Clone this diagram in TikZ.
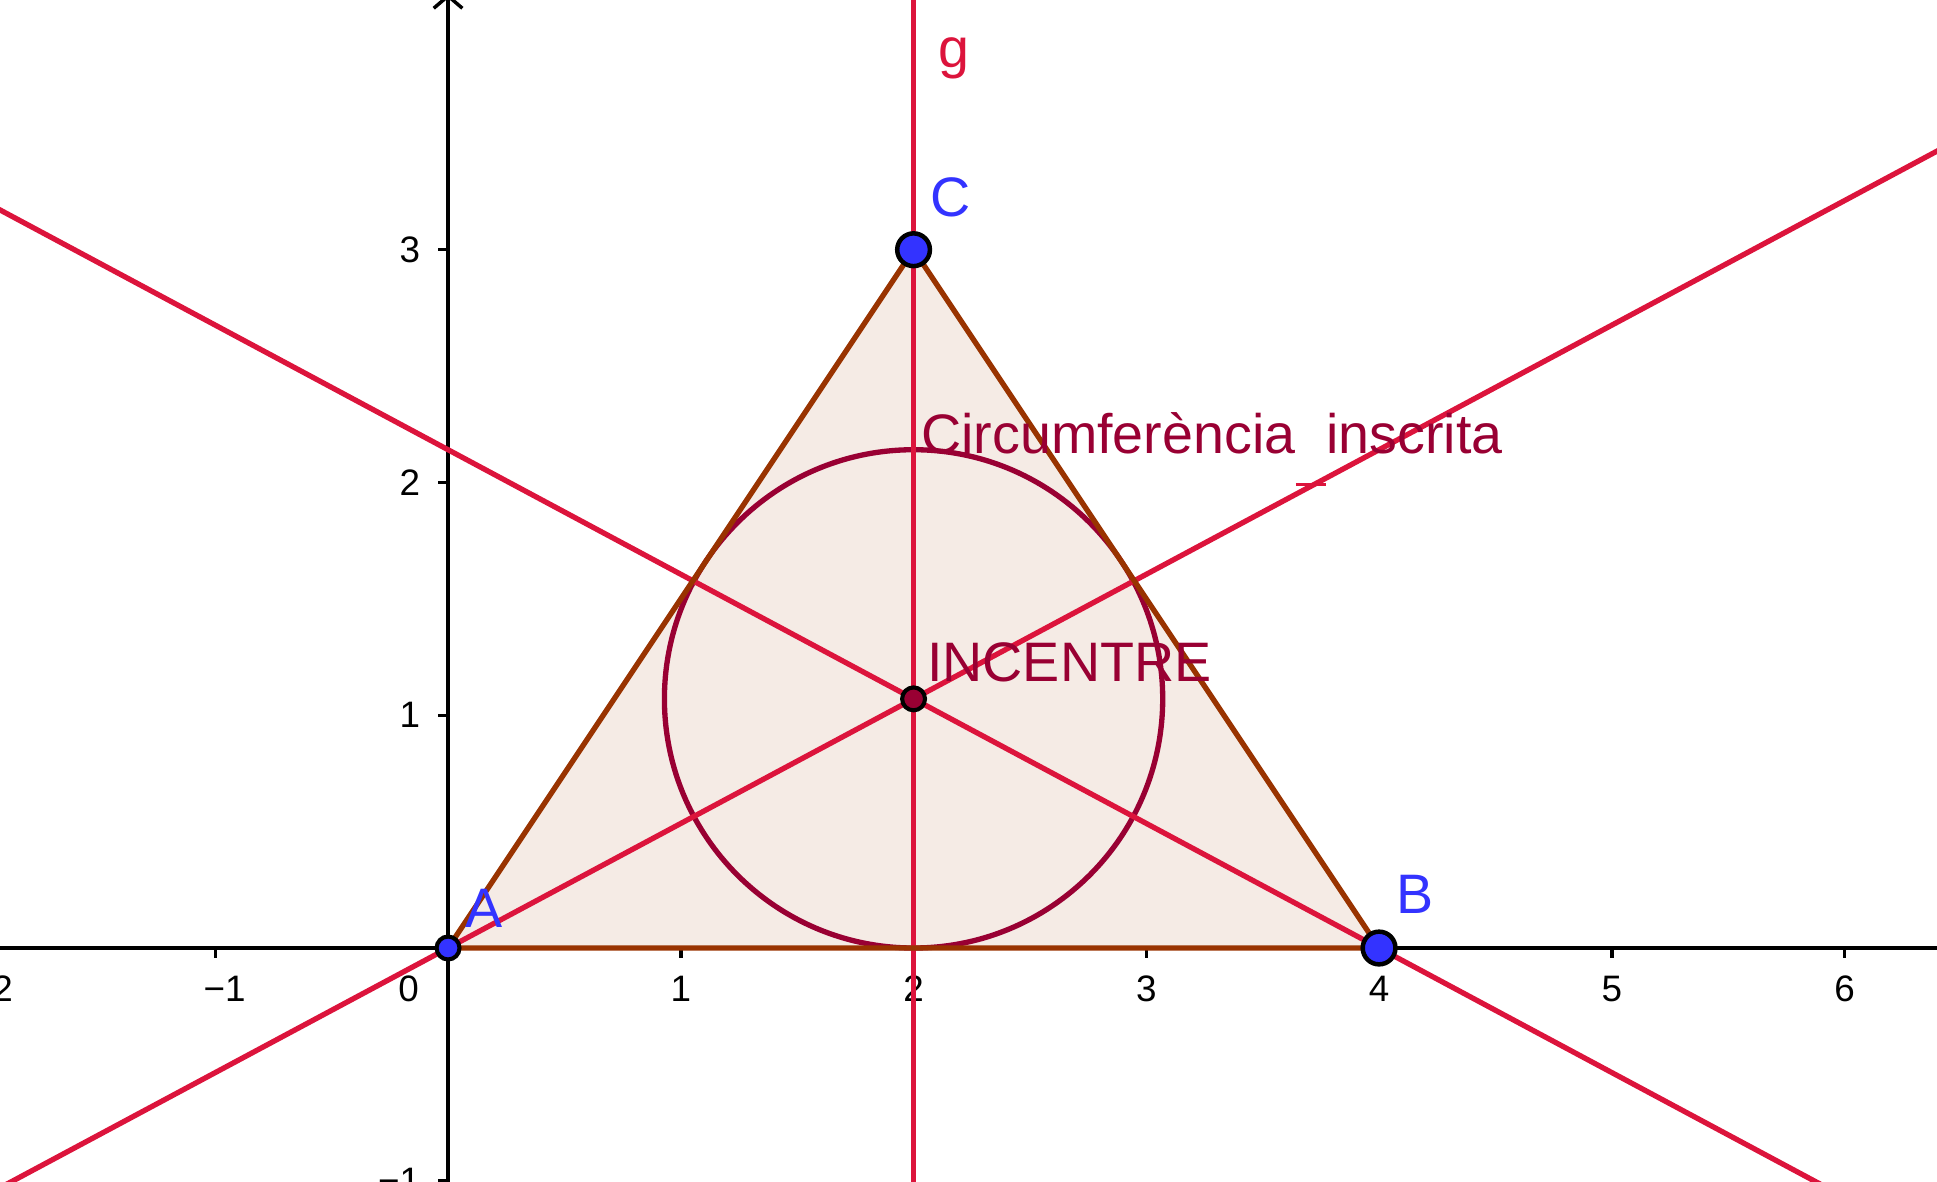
\documentclass[tikz,border=0pt]{standalone}
\usepackage{fontspec}
\setmainfont{Liberation Sans}
\usetikzlibrary{calc, arrows.meta}
\definecolor{bis}{HTML}{DC143C}
\definecolor{tri}{HTML}{993300}
\definecolor{inc}{HTML}{990033}
\definecolor{pt}{HTML}{3333FF}

\begin{document}
\begin{tikzpicture}[x=2cm, y=2cm,
  ax/.style={line width=0.85pt, black},
  bl/.style={line width=1.3pt, bis},
  edge/.style={line width=1.3pt, tri, line join=round},
  vtx/.style={circle, draw=black, line width=1.1pt, fill=pt, inner sep=0pt, minimum size=8pt},
  sm/.style={circle, draw=black, line width=1pt, fill=pt, inner sep=0pt, minimum size=5.6pt},
  lbl/.style={font=\fontsize{13.6}{15}\selectfont, inner sep=0pt, anchor=base west},
  tk/.style={font=\fontsize{9}{10}\selectfont, inner sep=0pt}
]
  \useasboundingbox (-1.925,-1.001) rectangle (6.397,4.073);
  \clip (-1.925,-1.001) rectangle (6.397,4.073);

  \coordinate (A) at (0,0);
  \coordinate (B) at (4,0);
  \coordinate (C) at (2,3);
  \coordinate (I) at (2,1.0704);
  \coordinate (xl) at (-2.1,0);
  \coordinate (xr) at (6.6,0);
  \coordinate (yb) at (0,-1.1);
  \coordinate (yt) at (0,4.1);
  \coordinate (gb) at (2,-1.1);
  \coordinate (gt) at (2,4.2);

  \fill[tri!10] (A) -- (B) -- (C) -- cycle;

  \draw[ax] (xl) -- (xr);
  \draw[ax, -{Straight Barb[length=3pt, width=7pt]}] (yb) -- (yt);
  \foreach \x in {-2,-1,1,2,3,4,5,6} \draw[ax] (\x,0) -- (\x,-0.042);
  \foreach \y in {-1,1,2,3} \draw[ax] (0,\y) -- (-0.042,\y);
  \foreach \x in {1,...,6} \node[tk] (tx\x) at (\x,-0.175) {\x};
  \node[tk] (txm1) at (-0.96,-0.175) {−1};
  \node[tk] (txm2) at (-1.96,-0.175) {−2};
  \node[tk] (tx0) at (-0.17,-0.175) {0};
  \foreach \y in {1,2,3} \node[tk, anchor=east] (ty\y) at (-0.117,\y) {\y};
  \node[tk, anchor=east] (tym1) at (-0.117,-1) {−1};

  \draw[inc, line width=1.3pt] (I) circle[radius=1.0704];

  \draw[bl] ($(A)!-1.2!(I)$) -- ($(A)!3.4!(I)$);
  \draw[bl] ($(B)!-1.4!(I)$) -- ($(B)!3.3!(I)$);
  \draw[bl] (gb) -- (gt);
  \draw[bis, line width=0.7pt] (3.643,1.991) -- (3.770,1.991);

  \draw[edge] (A) -- (B) -- (C) -- cycle;

  \node[sm] (pA) at (A) {};
  \node[vtx] (pB) at (B) {};
  \node[vtx] (pC) at (C) {};
  \node[sm, fill=inc] (pI) at (I) {};

  \node[lbl, text=pt] (lA) at (0.072,0.086) {A};
  \node[lbl, text=pt] (lB) at (4.07,0.150) {B};
  \node[lbl, text=pt] (lC) at (2.07,3.141) {C};
  \node[lbl, text=bis] (lg) at (2.105,3.785) {g};
  \node[lbl, text=inc] (lcirc) at (2.03,2.124) {Circumferència\ \ inscrita};
  \node[lbl, text=inc] (linc) at (2.055,1.147) {INCENTRE};
\end{tikzpicture}
\end{document}
